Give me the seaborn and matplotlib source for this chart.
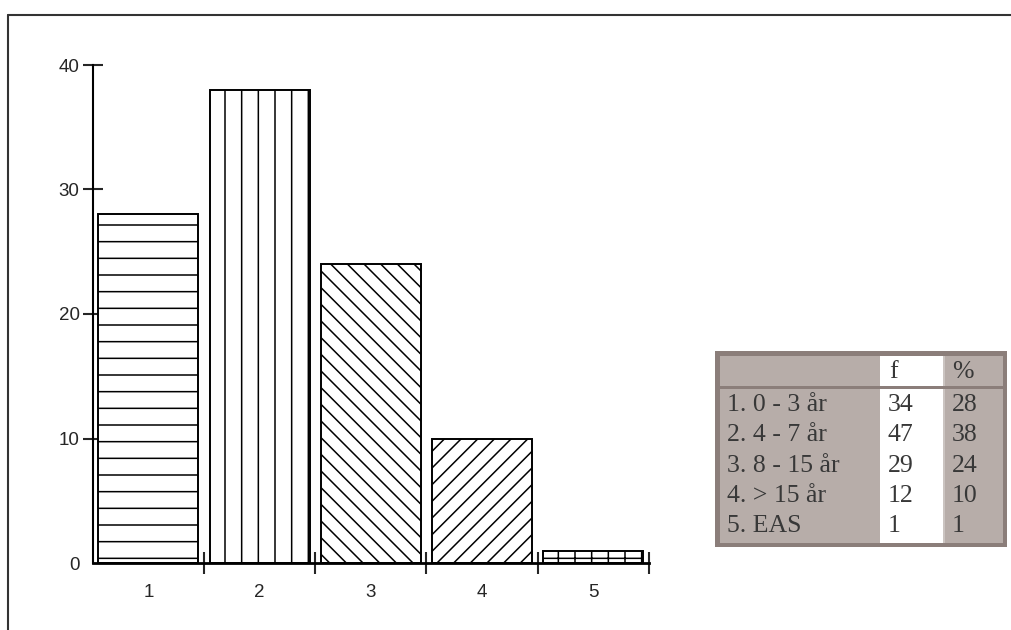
import numpy as np
import pandas as pd
import seaborn as sns
import matplotlib.pyplot as plt
from matplotlib.patches import Rectangle
from matplotlib.lines import Line2D

# data
cats = ['1', '2', '3', '4', '5']
pct = [28, 38, 24, 10, 1]
row_labels = ['1. 0 - 3 år', '2. 4 - 7 år', '3. 8 - 15 år', '4. > 15 år', '5. EAS']
freq = [34, 47, 29, 12, 1]
hatches = ['-', '|', '\\\\', '//', '+']

df = pd.DataFrame({'cat': cats, 'pct': pct})

sns.set_style('white')
plt.rcParams['hatch.linewidth'] = 1.1
plt.rcParams['hatch.color'] = 'black'

W, H = 1011, 630
fig = plt.figure(figsize=(W / 100, H / 100), dpi=100)
ax = fig.add_axes([92.7 / W, 1 - 563 / H, (649 - 92.7) / W, (563 - 65) / H])

sns.barplot(data=df, x='cat', y='pct', color='white', edgecolor='black',
            linewidth=1.4, width=0.9, saturation=1, ax=ax)
for bar, h in zip(ax.patches, hatches):
    bar.set_hatch(h)
    bar.set_facecolor('white')

ax.set_xlim(-0.5, 4.5)
ax.set_ylim(0, 40)
ax.set_xlabel('')
ax.set_ylabel('')
for s in ['top', 'right']:
    ax.spines[s].set_visible(False)
ax.spines['left'].set_linewidth(1.5)
ax.spines['bottom'].set_linewidth(2.0)
ax.spines['left'].set_color('black')
ax.spines['bottom'].set_color('black')

ax.set_yticks([0, 10, 20, 30, 40])
ax.tick_params(axis='y', direction='inout', length=15, width=1.5, pad=2.0,
               labelsize=13.5, labelcolor='#262626', left=True)
ax.yaxis.get_major_ticks()[0].tick1line.set_visible(False)

ax.set_xticks(range(len(cats)))
ax.set_xticklabels(cats)
ax.set_xticks(np.arange(len(cats)) + 0.5, minor=True)
ax.tick_params(axis='x', which='major', length=0, pad=15, labelsize=13.5,
               labelcolor='#262626')
ax.tick_params(axis='x', which='minor', direction='inout', length=16,
               width=1.5, bottom=True)
for lab in ax.get_xticklabels() + ax.get_yticklabels():
    lab.set_fontfamily('Liberation Sans')

# overlay in pixel coords for frame + table
ov = fig.add_axes([0, 0, 1, 1], zorder=5)
ov.set_xlim(0, W)
ov.set_ylim(H, 0)
ov.axis('off')
ov.patch.set_alpha(0)

ov.add_line(Line2D([8, W], [15, 15], color='#333333', lw=1.5))
ov.add_line(Line2D([8, 8], [15, H], color='#333333', lw=1.5))

border = '#8b7e7a'
fill = '#b7ada9'
ov.add_patch(Rectangle((715, 351), 292, 196, facecolor=border, edgecolor='none'))
ov.add_patch(Rectangle((720, 356), 283, 187, facecolor=fill, edgecolor='none'))
ov.add_patch(Rectangle((880, 356), 63, 187, facecolor='white', edgecolor='none'))
ov.add_patch(Rectangle((943, 356), 2, 187, facecolor='#cbc4c1', edgecolor='none'))
ov.add_patch(Rectangle((720, 386), 283, 2.5, facecolor=border, edgecolor='none'))

tfont = dict(family='Liberation Serif', size=18.5, color='#383838', va='center')
ov.text(889, 372, 'f', **tfont)
ov.text(952, 372, '%', **tfont)
for i, (lab, f, p) in enumerate(zip(row_labels, freq, pct)):
    y = 405 + i * 30.3
    ov.text(727, y, lab, **tfont)
    ov.text(888, y, str(f), **tfont)
    ov.text(952, y, str(p), **tfont)

fig.savefig('out.png', dpi=100)
